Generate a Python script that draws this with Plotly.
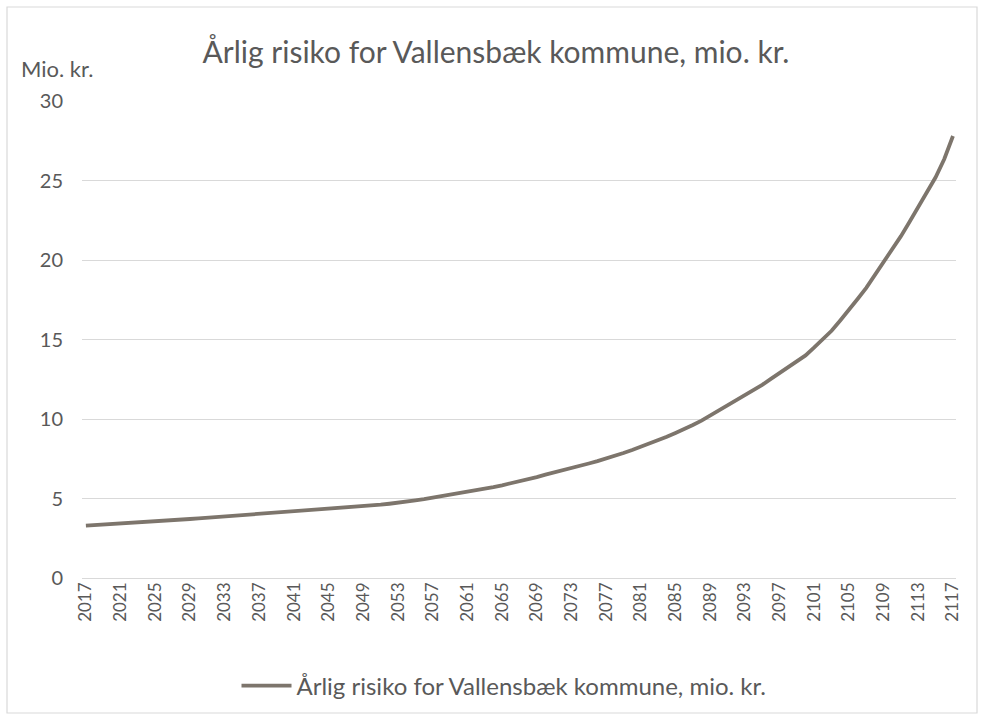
import plotly.graph_objects as go

# Annual risk for Vallensbæk municipality, million DKK, 2017-2117
years = list(range(2017, 2118))
risk = [
    3.30, 3.33, 3.36, 3.38, 3.41, 3.44, 3.47, 3.50, 3.54, 3.58,
    3.63, 3.68, 3.71, 3.75, 3.79, 3.84, 3.87, 3.90, 3.94, 3.97,
    4.00, 4.04, 4.07, 4.11, 4.15, 4.20, 4.25, 4.30, 4.35, 4.38,
    4.42, 4.46, 4.50, 4.55, 4.61, 4.67, 4.72, 4.80, 4.88, 4.96,
    5.05, 5.15, 5.25, 5.35, 5.45, 5.52, 5.60, 5.72, 5.83, 5.95,
    6.07, 6.20, 6.35, 6.50, 6.63, 6.77, 6.90, 7.05, 7.20, 7.35,
    7.50, 7.68, 7.86, 8.05, 8.25, 8.45, 8.65, 8.88, 9.12, 9.35,
    9.62, 9.90, 10.22, 10.53, 10.85, 11.17, 11.48, 11.80, 12.15, 12.52,
    12.90, 13.25, 13.62, 14.00, 14.50, 15.00, 15.55, 16.20, 16.85, 17.55,
    18.25, 19.05, 19.85, 20.65, 21.50, 22.40, 23.30, 24.30, 25.20, 26.35,
    27.80,
]
tick_years = list(range(2017, 2118, 4))
tick_labels = [str(y) for y in tick_years]
y_ticks = [0, 5, 10, 15, 20, 25, 30]

series_name = "Årlig risiko for Vallensbæk kommune, mio. kr."
title_text = "Årlig risiko for Vallensbæk kommune, mio. kr."
y_unit = "Mio. kr."

FONT = "Lato"
TEXT = "#595959"
GRID = "#d9d9d9"
LINE = "#7d756c"

W, H = 985, 720
ML, MR, MT, MB = 82, 29, 101, 142
PW, PH = W - ML - MR, H - MT - MB

fig = go.Figure()
fig.add_trace(go.Scatter(
    x=years, y=risk, mode="lines", name=series_name,
    line=dict(color=LINE, width=3.8),
))

# outer chart frame
def px_x(p):
    return (p - ML) / PW

def px_y(p):
    return 1 - (p - MT) / PH

fig.add_shape(type="rect", xref="paper", yref="paper",
              x0=px_x(7), x1=px_x(977), y0=px_y(713), y1=px_y(7),
              line=dict(color="#d9d9d9", width=1.2), layer="below")

fig.add_annotation(text=y_unit, xref="paper", yref="paper",
                   x=px_x(19), y=px_y(68), xanchor="left", yanchor="middle",
                   showarrow=False, font=dict(family=FONT, size=22, color=TEXT))

fig.update_layout(
    width=W, height=H,
    margin=dict(l=ML, r=MR, t=MT, b=MB),
    paper_bgcolor="white", plot_bgcolor="white",
    title=dict(text=title_text, xref="container", x=496 / W, xanchor="center",
               yref="container", y=1 - 52 / H, yanchor="middle",
               font=dict(family=FONT, size=30, color=TEXT)),
    font=dict(family=FONT, color=TEXT),
    showlegend=True,
    legend=dict(orientation="h", x=px_x(504), xanchor="center",
                y=px_y(686), yanchor="middle",
                font=dict(family=FONT, size=24, color=TEXT),
                itemwidth=50),
    xaxis=dict(range=[2016.55, 2117.35], tickmode="array",
               tickvals=tick_years, ticktext=tick_labels, tickangle=-90,
               showgrid=False, zeroline=False, showline=False, ticks="",
               tickfont=dict(family=FONT, size=17, color=TEXT)),
    yaxis=dict(range=[0, 30], tickvals=y_ticks, showgrid=True,
               gridcolor=GRID, gridwidth=1, zeroline=True,
               zerolinecolor=GRID, zerolinewidth=1, showline=False,
               ticks="", ticklabelstandoff=18,
               tickfont=dict(family=FONT, size=20, color=TEXT)),
)

fig.write_html("out.html")
